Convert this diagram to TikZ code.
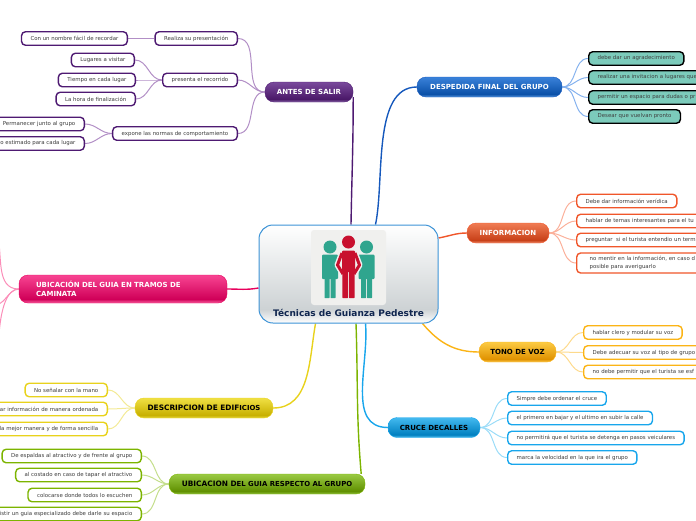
\documentclass[tikz,border=0pt]{standalone}
\usepackage{fontspec}
\setmainfont{DejaVu Sans}
\usetikzlibrary{backgrounds}
\definecolor{antesline}{HTML}{4E1A72}
\definecolor{anteslink}{HTML}{B28FC6}
\definecolor{despline}{HTML}{1558BC}
\definecolor{desplink}{HTML}{85B2EE}
\definecolor{tealfill}{HTML}{7CCBBB}
\definecolor{infoline}{HTML}{F0562A}
\definecolor{infolink}{HTML}{FBB09A}
\definecolor{tonoline}{HTML}{FBB416}
\definecolor{tonolink}{HTML}{FDDA8C}
\definecolor{cruceline}{HTML}{18A6EC}
\definecolor{crucelink}{HTML}{9ADCF8}
\definecolor{edifline}{HTML}{E8D21C}
\definecolor{ediflink}{HTML}{F3EA96}
\definecolor{ubicline}{HTML}{7CB400}
\definecolor{ubiclink}{HTML}{C4DE8C}
\definecolor{pinkline}{HTML}{E8005C}
\definecolor{pinklink}{HTML}{FB8DB8}
\definecolor{rootline}{HTML}{3C93D6}
\definecolor{rootlow}{HTML}{CDD2D4}
\definecolor{navy}{HTML}{10264F}
\definecolor{kidtext}{HTML}{3C3C3C}
\definecolor{iconback}{HTML}{F0F0EE}
\definecolor{manteal}{HTML}{2FA58E}
\definecolor{manred}{HTML}{C8102E}
% sombreado: franja clara abajo, claro arriba
\newcommand{\glossshade}[4]{\pgfdeclareverticalshading{#1}{100bp}{color(0bp)=(#4); color(25bp)=(#4); color(32bp)=(#3); color(75bp)=(#2); color(100bp)=(#2)}}
\definecolor{c1}{HTML}{7A4A9C}\definecolor{c2}{HTML}{4A1868}\definecolor{c3}{HTML}{8E6EAC}
\glossshade{antesshade}{c1}{c2}{c3}
\definecolor{d1}{HTML}{3A82DA}\definecolor{d2}{HTML}{0A50A8}\definecolor{d3}{HTML}{5E9CE2}
\glossshade{despshade}{d1}{d2}{d3}
\definecolor{e1}{HTML}{F07C54}\definecolor{e2}{HTML}{C84018}\definecolor{e3}{HTML}{F29474}
\glossshade{infoshade}{e1}{e2}{e3}
\definecolor{f1}{HTML}{FCCB44}\definecolor{f2}{HTML}{E09200}\definecolor{f3}{HTML}{FCCB54}
\glossshade{tonoshade}{f1}{f2}{f3}
\definecolor{g1}{HTML}{44BAF0}\definecolor{g2}{HTML}{0080C0}\definecolor{g3}{HTML}{54C2F0}
\glossshade{cruceshade}{g1}{g2}{g3}
\definecolor{h1}{HTML}{F0E044}\definecolor{h2}{HTML}{C8B000}\definecolor{h3}{HTML}{E8DA44}
\glossshade{edifshade}{h1}{h2}{h3}
\definecolor{i1}{HTML}{9ACA44}\definecolor{i2}{HTML}{609000}\definecolor{i3}{HTML}{92C244}
\glossshade{ubicshade}{i1}{i2}{i3}
\definecolor{j1}{HTML}{F84492}\definecolor{j2}{HTML}{D00058}\definecolor{j3}{HTML}{F864A2}
\glossshade{pinkshade}{j1}{j2}{j3}
\pgfdeclareverticalshading{rootshade}{100bp}{color(0bp)=(white); color(25bp)=(white); color(32bp)=(rootlow); color(75bp)=(white); color(100bp)=(white)}
\newcommand{\chica}[1]{\raisebox{-0.5pt}{\fontsize{6.9}{7}\selectfont #1}}
\tikzset{
    root/.style={rectangle, rounded corners=14pt, draw=rootline, line width=1pt, shade, shading=rootshade, minimum width=179pt, minimum height=98pt},
    rootlabel/.style={font=\fontsize{9}{10}\selectfont\bfseries, text=navy, inner sep=0pt},
    branch/.style={rectangle, rounded corners=9pt, shade, shading=#1, minimum height=20pt, inner sep=0pt, font=\fontsize{7}{9.5}\selectfont\bfseries},
    mixta/.style={font=\fontsize{7.4}{9.5}\selectfont\bfseries},
    kid/.style={rectangle, rounded corners=4pt, draw=#1, line width=1.4pt, fill=white, text=kidtext, minimum height=13.5pt, inner xsep=9pt, inner ysep=0pt, font=\fontsize{5.42}{7.5}\selectfont},
    kidL/.style={kid=#1, anchor=east},
    kidR/.style={kid=#1, anchor=west},
    teal/.style={kidR=black, fill=tealfill, text=black!75},
    cutR/.style={text width=#1, align=left},
    cutL/.style={text width=#1, align=right},
    link/.style={draw=#1, line width=1pt},
    trunk/.style={draw=#1, line width=1.4pt}
}
\begin{document}
\begin{tikzpicture}[x=1pt, y=-1pt]
    \useasboundingbox (0,0) rectangle (696,520);

    % Centro
    \node[root] (root) at (348.5,274) {};
    \node[rootlabel] (rootname) at (348.5,312.5) {Técnicas de Guianza Pedestre};
    \fill[iconback, rounded corners=3pt] (311,230) rectangle (386,305);
    \foreach \m/\s in {330/-1, 366.5/1} {
        \fill[manteal] (\m,247) circle (6.5);
        \fill[manteal, rounded corners=1pt] (\m-8,254.5) rectangle (\m+8,279);
        \fill[manteal, rounded corners=0.5pt] (\m-5.5,277) rectangle (\m-0.5,298);
        \fill[manteal, rounded corners=0.5pt] (\m+0.5,277) rectangle (\m+5.5,298);
    }
    \draw[iconback, line width=6pt, line join=round] (342,253) -- (337.5,265) -- (343,274);
    \draw[iconback, line width=6pt, line join=round] (355,253) -- (359.5,265) -- (354,274);
    \fill[iconback] (341,251) rectangle (356,298);
    \fill[manred] (348.5,242) circle (6.5);
    \fill[manred, rounded corners=1pt] (342,250.5) -- (355,250.5) -- (355,272) -- (342,272) -- cycle;
    \draw[manred, line width=3pt, line join=round] (342,253) -- (337.5,265) -- (343,274);
    \draw[manred, line width=3pt, line join=round] (355,253) -- (359.5,265) -- (354,274);
    \fill[manred, rounded corners=0.5pt] (342.3,270) rectangle (348,298);
    \fill[manred, rounded corners=0.5pt] (349,270) rectangle (354.7,298);

    % Ramas
    \node[branch=antesshade, draw=antesline, text=white, minimum width=88pt] (antes) at (309,92) {ANTES DE SALIR};
    \node[branch=despshade, draw=despline, text=white, minimum width=145pt] (desp) at (489.5,87) {DESPEDIDA FINAL DEL GRUPO};
    \node[branch=infoshade, draw=infoline, text=white, minimum width=82pt] (info) at (508,233) {INFORMACION};
    \node[branch=tonoshade, draw=tonoline, text=black, minimum width=77pt] (tono) at (517.5,352) {TONO DE VOZ};
    \node[branch=cruceshade, draw=cruceline, text=black, minimum width=92pt] (cruce) at (434,427.5) {CRUCE DECALLES};
    \node[branch=edifshade, mixta, draw=edifline, text=black, minimum width=138pt] (edif) at (204,408) {DESCRIPCION DE EDIF\chica{ICIOS}};
    \node[branch=ubicshade, mixta, draw=ubicline, text=black, minimum width=196pt] (ubic) at (267,484) {UBICACION D\chica{EL GUIA RESPECTO AL GRUPO}};
    \node[branch=pinkshade, draw=pinkline, text=white, minimum width=208pt, minimum height=28pt, text width=174pt, align=left, inner xsep=17pt] (tramos) at (123,289) {UBICACIÓN DEL GUIA EN TRAMOS DE\\CAMINATA};

    % Antes de salir
    \node[kidL=antesline] (realiza) at (238,38.5) {Realiza su presentación};
    \node[kidL=antesline] (nombre) at (128,38.5) {Con un nombre fácil de recordar};
    \node[kidL=antesline] (presenta) at (238,80) {presenta el recorrido};
    \node[kidL=antesline] (lugares) at (135,60) {Lugares a visitar};
    \node[kidL=antesline] (tiempo) at (136,80) {Tiempo en cada lugar};
    \node[kidL=antesline] (hora) at (136,99) {La hora de finalización};
    \node[kidL=antesline] (expone) at (238,133.5) {expone las normas de comportamiento};
    \node[kidL=antesline, cutL=120pt] (junto) at (85,124) {Permanecer junto al grupo};
    \node[kidL=antesline, cutL=120pt] (estimado) at (85,143.5) {o estimado para cada lugar};

    % Despedida
    \node[teal] (agrad) at (588,58.5) {debe dar un agradecimiento};
    \node[teal, cutR=160pt] (invita) at (588,77.5) {realizar una invitacion a lugares que};
    \node[teal, cutR=160pt] (dudas) at (588,97.5) {permitir un espacio para dudas o pr};
    \node[teal] (pronto) at (588,116.5) {Desear que vuelvan pronto};

    % Informacion
    \node[kidR=infoline] (veridica) at (576,201) {Debe dar información verídica};
    \node[kidR=infoline, cutR=160pt] (temas) at (576,221) {hablar de temas interesantes para el tu};
    \node[kidR=infoline, cutR=160pt] (termino) at (576,240) {preguntar\ \ si el turista entendio un term};
    \node[kidR=infoline, cutR=160pt, minimum height=20pt, inner xsep=13pt] (mentir) at (576,263) {no mentir en la información, en caso d\\posible para averiguarlo};

    % Tono de voz
    \node[kidR=tonoline] (claro) at (583,332.5) {hablar clero y modular su voz};
    \node[kidR=tonoline, cutR=160pt] (grupo) at (583,352.5) {Debe adecuar su voz al tipo de grupo};
    \node[kidR=tonoline, cutR=160pt] (esfuerzo) at (583,372) {no debe permitir que el turista se esf};

    % Cruce
    \node[kidR=cruceline] (ordenar) at (507,398.5) {Simpre debe ordenar el cruce};
    \node[kidR=cruceline] (primero) at (507,418) {el primero en bajar y el ultimo en subir la calle};
    \node[kidR=cruceline] (pasos) at (507,438) {no permitirá que el turista se detenga en pasos veiculares};
    \node[kidR=cruceline] (velocidad) at (507,457.5) {marca la velocidad en la que ira el grupo};

    % Edificios
    \node[kidL=edifline] (mano) at (108,390) {No señalar con la mano};
    \node[kidL=edifline, cutL=130pt] (ordenada) at (108,409) {ar información de manera ordenada};
    \node[kidL=edifline, cutL=130pt] (sencilla) at (108,429) {la mejor manera y de forma sencilla};

    % Ubicacion
    \node[kidL=ubicline] (espaldas) at (142,456) {De espaldas al atractivo y de frente al grupo};
    \node[kidL=ubicline] (costado) at (142,475) {al costado en caso de tapar el atractivo};
    \node[kidL=ubicline] (escuchen) at (142,495) {colocarse donde todos lo escuchen};
    \node[kidL=ubicline, cutL=160pt] (especial) at (142,514) {istir un guia especializado debe darle su espacio};

    % Tramos
    \coordinate (tramosa) at (-3,232);
    \coordinate (tramosb) at (-6,303);
    \coordinate (tramosc) at (-1,350);

    \begin{scope}[on background layer]
        % Troncos
        \draw[trunk=antesline] ([xshift=2.5pt]root.north) to[out=89,in=-90] ([yshift=-5pt]antes.east);
        \draw[trunk=despline] ([xshift=27pt]root.north) to[out=78,in=180,looseness=0.8] (desp.west);
        \draw[trunk=infoline] ([yshift=36pt]root.east) to[out=10,in=180] (info.west);
        \draw[trunk=tonoline] ([xshift=74pt]root.south) to[out=-50,in=180] (tono.west);
        \draw[trunk=cruceline] ([xshift=17pt]root.south) to[out=-85,in=180] (cruce.west);
        \draw[trunk=ubicline] ([xshift=7.5pt]root.south) to[out=-88,in=95] ([xshift=-4pt]ubic.north east);
        \draw[trunk=edifline] ([xshift=-33pt]root.south) to[out=-100,in=0] (edif.east);
        \draw[trunk=pinkline] ([yshift=-14pt]root.west) to[out=190,in=0] (tramos.east);
        % Hijos
        \foreach \k in {realiza, presenta, expone}
            \draw[link=anteslink] (\k.east) to[out=0,in=180] (antes.west);
        \draw[link=anteslink] (nombre.east) -- (realiza.west);
        \foreach \k in {lugares, tiempo, hora}
            \draw[link=anteslink] (\k.east) to[out=0,in=180] (presenta.west);
        \foreach \k in {junto, estimado}
            \draw[link=anteslink] (\k.east) to[out=0,in=180] (expone.west);
        \foreach \k in {agrad, invita, dudas, pronto}
            \draw[link=desplink] (desp.east) to[out=0,in=180] (\k.west);
        \foreach \k in {veridica, temas, termino, mentir}
            \draw[link=infolink] (info.east) to[out=0,in=180] (\k.west);
        \foreach \k in {claro, grupo, esfuerzo}
            \draw[link=tonolink] (tono.east) to[out=0,in=180] (\k.west);
        \foreach \k in {ordenar, primero, pasos, velocidad}
            \draw[link=crucelink] (cruce.east) to[out=0,in=180] (\k.west);
        \foreach \k in {mano, ordenada, sencilla}
            \draw[link=ediflink] (\k.east) to[out=0,in=180] (edif.west);
        \foreach \k in {espaldas, costado, escuchen, especial}
            \draw[link=ubiclink] (\k.east) to[out=0,in=180] (ubic.west);
        \draw[link=pinklink] (tramosa) to[out=-75,in=180] (tramos.west);
        \draw[link=pinklink] (tramosb) to[out=-30,in=180] (tramos.west);
        \draw[link=pinklink] (tramosc) to[out=-90,in=180] (tramos.west);
    \end{scope}
\end{tikzpicture}
\end{document}
